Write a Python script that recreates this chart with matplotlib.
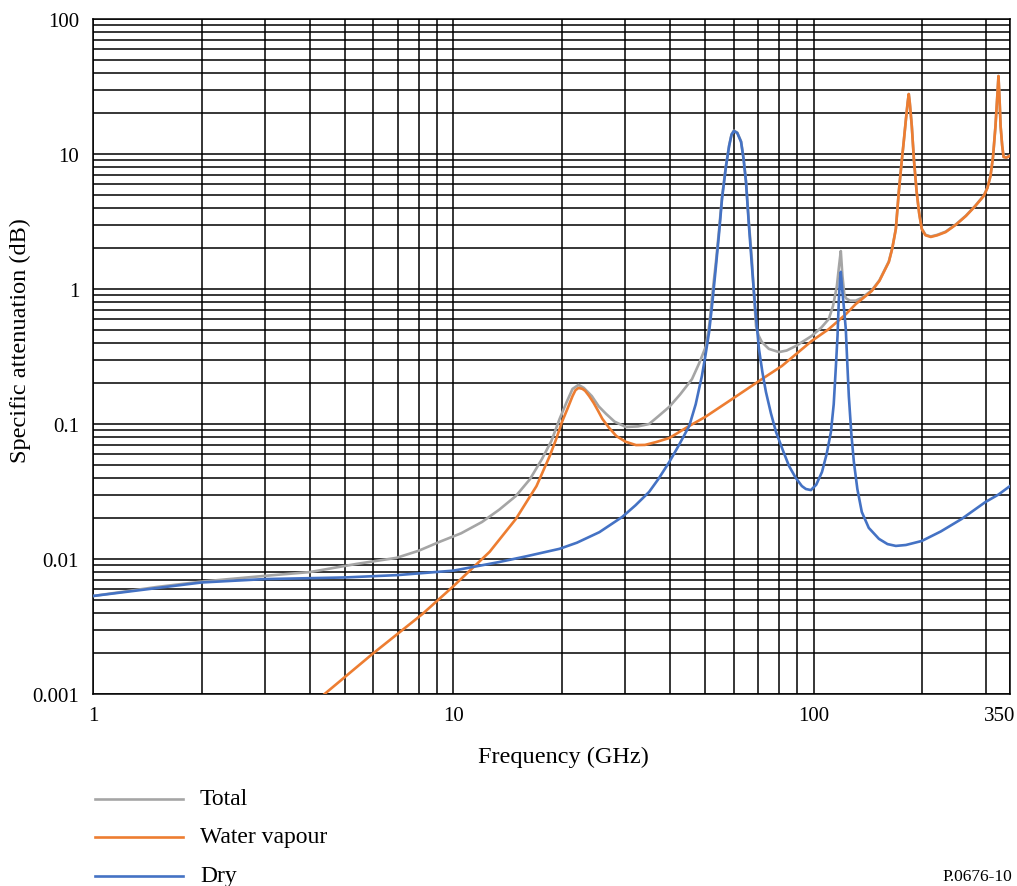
import matplotlib
matplotlib.use("Agg")
import matplotlib.pyplot as plt
from matplotlib.lines import Line2D
from matplotlib.ticker import LogLocator, NullFormatter, FixedLocator, FixedFormatter
import matplotlib.transforms as mtransforms

# ---- data ----
dry_f = [1, 2, 3, 5, 7, 10, 13.4, 16, 19.7, 22, 25.4, 29.4, 32, 34.9, 37, 39.7, 42, 45.1, 47,
         48.9, 50, 51.2, 52.3, 53.5, 54.5, 55.6, 57, 58.2, 59.1, 60, 61.3, 62.8, 63.8, 64.8,
         66, 67.3, 68.8, 70.4, 72, 73.6, 76, 78.5, 82, 85.3, 89, 92.6, 95, 98.1, 101.5, 105.3,
         108.5, 111.5, 113.5, 115.1, 116.3, 117.3, 118.1, 118.75, 120, 121.3, 122.6, 123.8,
         125, 127, 129.1, 132, 135.8, 142, 151.5, 160, 168.8, 180, 199.2, 225, 257, 299, 325,
         350]
dry_v = [0.00532, 0.0067, 0.0071, 0.0073, 0.0076, 0.0082, 0.0095, 0.0105, 0.0119, 0.0132,
         0.0158, 0.0205, 0.025, 0.0314, 0.039, 0.0523, 0.068, 0.0967, 0.14, 0.227, 0.32, 0.48,
         0.8, 1.48, 2.5, 4.64, 8.0, 11.5, 13.9, 14.8, 14.3, 12.3, 9.2, 6.2, 3.0, 1.48, 0.7,
         0.36, 0.24, 0.173, 0.12, 0.0874, 0.064, 0.0489, 0.040, 0.0347, 0.0330, 0.0324,
         0.0355, 0.0441, 0.060, 0.0874, 0.14, 0.269, 0.45, 0.843, 1.15, 1.34, 0.95, 0.7,
         0.505, 0.28, 0.161, 0.085, 0.0523, 0.033, 0.0223, 0.0170, 0.0141, 0.0129, 0.0125,
         0.0127, 0.0136, 0.0160, 0.0198, 0.0264, 0.030, 0.0347]

wv_f = [4.39, 5.96, 8.2, 9.94, 12.6, 14.9, 17.0, 18.5, 19.3, 20.0, 20.7, 21.4, 21.8, 22.235,
        22.8, 23.2, 23.8, 24.5, 25.2, 25.9, 27, 28.3, 30, 32.1, 34, 36.5, 39.7, 45.1, 50,
        59.3, 70.4, 81.5, 98.6, 110, 122.6, 130.7, 135.8, 144.8, 152, 161.4, 165, 168.8, 172,
        175, 177.5, 180, 182, 183.31, 184.5, 186.9, 189.5, 192.8, 196, 199.2, 204, 211, 220,
        232, 248, 264, 280, 296, 303, 309, 314, 319, 322.5, 325.15, 327.5, 329.6, 333, 336,
        342, 350]
wv_v = [0.001, 0.00198, 0.00391, 0.0062, 0.0113, 0.0198, 0.0347, 0.058, 0.078, 0.1035,
        0.129, 0.161, 0.178, 0.185, 0.182, 0.176, 0.161, 0.143, 0.125, 0.109, 0.094, 0.0815,
        0.074, 0.0698, 0.0700, 0.0735, 0.0787, 0.0967, 0.113, 0.153, 0.208, 0.269, 0.412,
        0.505, 0.65, 0.774, 0.84, 0.967, 1.15, 1.585, 2.0, 2.78, 5.23, 8.5, 12.3, 18, 24,
        27.8, 24, 16.1, 9.0, 5.23, 3.6, 2.78, 2.5, 2.43, 2.5, 2.64, 3.0, 3.47, 4.1, 4.89, 5.6,
        6.87, 9.5, 16.1, 26, 37.8, 25, 16.1, 11.5, 9.5, 9.4, 9.7]

tot_f = [1, 1.5, 2, 2.96, 3.99, 5.39, 6.95, 8, 9.15, 10.5, 12.0, 13.4, 14.9, 16.3, 17.6, 18.7,
         19.7, 20.6, 21.4, 22.235, 23.0, 24.2, 25.3, 26.5, 28, 30.1, 32.5, 34.9, 37, 39.7,
         42.5, 45.9, 48, 50.2, 51.3, 52.1, 53.5, 54.5, 55.6, 57, 58.2, 59.1, 60, 61.3, 62.8,
         63.8, 64.8, 66, 67.3, 68.2, 69.1, 70.3, 71.7, 75, 80, 84, 89.1, 98.6, 105, 110, 113,
         115.8, 117.5, 118.75, 120, 121.5, 123, 126, 130.7, 135.8, 144.8, 152, 161.4, 165,
         168.8, 172, 175, 177.5, 180, 182, 183.31, 184.5, 186.9, 189.5, 192.8, 196, 199.2, 204,
         211, 220, 232, 248, 264, 280, 296, 303, 309, 314, 319, 322.5, 325.15, 327.5, 329.6,
         333, 336, 342, 350]
tot_v = [0.00532, 0.0062, 0.0068, 0.00748, 0.0080, 0.0092, 0.0102, 0.0115, 0.0134, 0.0155,
         0.0188, 0.0232, 0.0293, 0.039, 0.055, 0.075, 0.109, 0.145, 0.182, 0.195, 0.185,
         0.161, 0.135, 0.119, 0.104, 0.095, 0.096, 0.1, 0.114, 0.134, 0.165, 0.215, 0.28,
         0.378, 0.55, 0.843, 1.6, 2.65, 4.8, 8.15, 11.6, 14.0, 14.9, 14.4, 12.4, 9.35, 6.35,
         3.15, 1.65, 0.9, 0.53, 0.45, 0.405, 0.36, 0.341, 0.35, 0.378, 0.449, 0.52, 0.6, 0.75,
         1.05, 1.5, 1.91, 1.25, 0.9, 0.85, 0.82, 0.82, 0.86, 0.98, 1.16, 1.6, 2.01, 2.8, 5.25,
         8.5, 12.3, 18, 24, 27.8, 24, 16.1, 9.0, 5.25, 3.62, 2.8, 2.52, 2.45, 2.52, 2.66, 3.02,
         3.49, 4.12, 4.92, 5.63, 6.9, 9.5, 16.1, 26, 37.8, 25, 16.1, 11.5, 9.5, 9.43, 9.75]

x_ticks = [1, 10, 100, 350]
x_ticklabels = ["1", "10", "100", "350"]
y_ticks = [0.001, 0.01, 0.1, 1, 10, 100]
y_ticklabels = ["0.001", "0.01", "0.1", "1", "10", "100"]
series_labels = ["Total", "Water vapour", "Dry"]
colors = ["#A5A5A5", "#ED7D31", "#4472C4"]

W, H = 1017, 887
plt.rcParams['font.family'] = ['Liberation Serif', 'DejaVu Serif']
fig = plt.figure(figsize=(W / 100, H / 100), dpi=100)
ax = fig.add_axes([93 / W, 1 - 695 / H, (1010 - 93) / W, (695 - 20) / H])
ax.set_xscale('log')
ax.set_yscale('log')
ax.set_xlim(1, 350)
ax.set_ylim(0.001, 100)

lw = 1.9
ax.plot(tot_f, tot_v, color=colors[0], lw=lw, zorder=3, solid_joinstyle='round')
ax.plot(wv_f, wv_v, color=colors[1], lw=lw, zorder=4, solid_joinstyle='round')
ax.plot(dry_f, dry_v, color=colors[2], lw=lw, zorder=5, solid_joinstyle='round')

ax.xaxis.set_major_locator(FixedLocator(x_ticks))
ax.xaxis.set_major_formatter(FixedFormatter(x_ticklabels))
ax.xaxis.set_minor_locator(LogLocator(base=10, subs=range(2, 10), numticks=50))
ax.xaxis.set_minor_formatter(NullFormatter())
ax.yaxis.set_major_locator(FixedLocator(y_ticks))
ax.yaxis.set_major_formatter(FixedFormatter(y_ticklabels))
ax.yaxis.set_minor_locator(LogLocator(base=10, subs=range(2, 10), numticks=50))
ax.yaxis.set_minor_formatter(NullFormatter())

ax.grid(which='both', color='black', lw=1.1, zorder=1)
ax.set_axisbelow(True)
ax.tick_params(which='both', length=0)
ax.tick_params(axis='x', pad=9, labelsize=15)
ax.tick_params(axis='y', pad=10, labelsize=15)
for s in ax.spines.values():
    s.set_color('black')
    s.set_linewidth(1.1)

# shift last x tick label to stay inside the figure
lab = ax.get_xticklabels()[-1]
lab.set_transform(lab.get_transform() + mtransforms.ScaledTranslation(-10 / 100, 0, fig.dpi_scale_trans))

fig.text(563 / W, 1 - 757 / H, "Frequency (GHz)", ha='center', va='center', fontsize=17.5)
fig.text(20 / W, 1 - 341 / H, "Specific attenuation (dB)", ha='center', va='center',
         rotation=90, fontsize=17.5)

# legend drawn below the plot
rows = [800, 838, 877]
for lbl, c, yy in zip(series_labels, colors, rows):
    fig.add_artist(Line2D([95 / W, 183 / W], [1 - yy / H] * 2, color=c, lw=lw))
    fig.text(200 / W, 1 - yy / H, lbl, ha='left', va='center', fontsize=17)

fig.text(1012 / W, 1 - 877 / H, "P.0676-10", ha='right', va='center', fontsize=12.5)

fig.savefig("out.png", dpi=100)
